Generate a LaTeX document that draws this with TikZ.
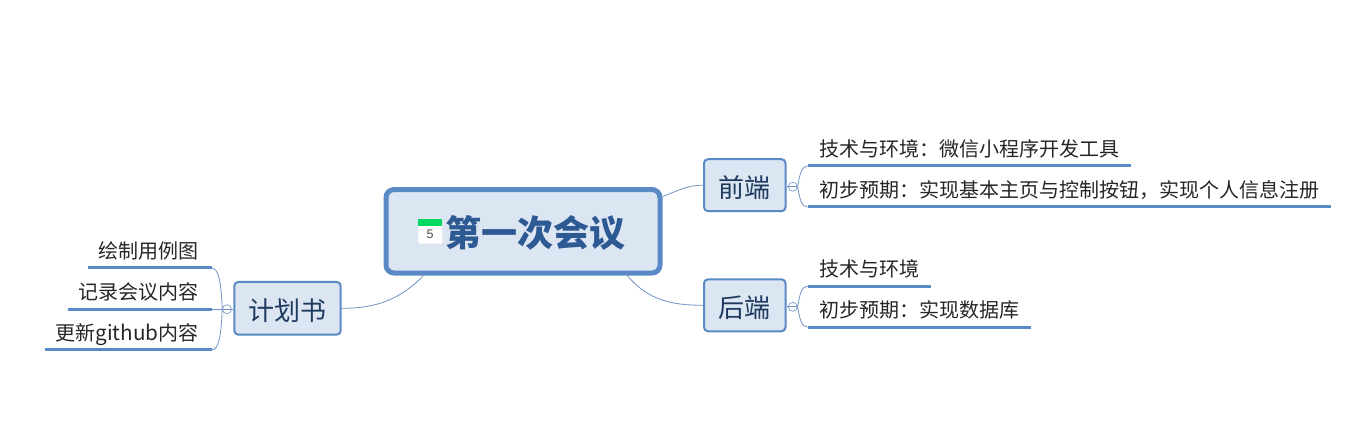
\documentclass[tikz,border=0pt]{standalone}
\usepackage{fontspec}
\setmainfont{Noto Sans CJK SC}
\newfontfamily\iconfont{Liberation Sans}
\usetikzlibrary{positioning}
\definecolor{boxblue}{HTML}{5A8AC6}
\definecolor{boxfill}{HTML}{DCE5F2}
\definecolor{branchtext}{HTML}{1F3A5F}
\definecolor{titletext}{HTML}{2E5A94}
\definecolor{curveblue}{HTML}{6F92C4}
\definecolor{calgreen}{HTML}{00D95F}

\begin{document}
\begin{tikzpicture}[
        x=1pt, y=1pt,
        mainbox/.style={draw=boxblue, line width=5pt, rounded corners=8pt, fill=boxfill, text=titletext, font=\fontsize{36}{40}\selectfont\bfseries, minimum width=274pt, minimum height=83.5pt, inner sep=0pt, text height=34pt, text depth=4pt},
        branch/.style={draw=boxblue, line width=2pt, rounded corners=4pt, fill=boxfill, text=branchtext, font=\fontsize{26}{30}\selectfont, minimum height=52pt, inner sep=0pt, text height=28pt, text depth=4pt},
        child/.style={font=\fontsize{20}{24}\selectfont, text=black!85, text height=16pt, text depth=4pt, inner xsep=11.5pt, inner ysep=5.5pt, outer sep=0pt},
        leftchild/.style={child, inner xsep=11pt, execute at end node={\kern2pt}},
        fold/.style={draw=curveblue, circle, fill=white, minimum size=9pt, inner sep=0pt, line width=0.6pt},
        uline/.style={draw=boxblue, line width=3pt},
        curve/.style={draw=curveblue, line width=0.8pt},
        bracket/.style={curve, out distance=13pt, in distance=6pt},
        longbracket/.style={curve, out distance=26pt, in distance=7pt}
    ]
        \useasboundingbox (0,0) rectangle (1360,444);

        % Center
        \node[mainbox] (main) at (523,212.7) {\hspace*{25pt}第一次会议};
        \node[draw=black!10, fill=white, rounded corners=1pt, minimum width=24pt, minimum height=25pt, inner sep=0pt, right=34.5pt of main.west, font=\iconfont\fontsize{12.5}{14}\selectfont, text=black!70, text height=18pt, text depth=4pt] (cal) {5};
        \node[fill=calgreen, minimum width=24pt, minimum height=7pt, inner sep=0pt, below=0pt of cal.north] (calbar) {};

        % Branches
        \node[branch, minimum width=81.5pt, right=40.5pt of main, yshift=46.1pt] (qianduan) {前端};
        \node[branch, minimum width=81.5pt, right=40.5pt of main, yshift=-74pt] (houduan) {后端};
        \node[branch, minimum width=106.4pt, minimum height=52.7pt, left=41.8pt of main, yshift=-77pt] (jihua) {计划书};

        % Fold marks
        \node[fold, right=1.5pt of qianduan, yshift=-1.5pt] (foldq) {};
        \node[fold, right=1.5pt of houduan, yshift=-1.5pt] (foldh) {};
        \node[fold, left=1.5pt of jihua, yshift=-1pt] (foldj) {};

        % Qianduan children
        \node[child, right=10pt of foldq.east, anchor=south west, yshift=20.7pt] (qone) {技术与环境：微信小程序开发工具};
        \node[child, right=10pt of foldq.east, anchor=south west, yshift=-20.3pt] (qtwo) {初步预期：实现基本主页与控制按钮，实现个人信息注册};

        % Houduan children
        \node[child, right=10pt of foldh.east, anchor=south west, yshift=20.7pt] (hone) {技术与环境};
        \node[child, right=10pt of foldh.east, anchor=south west, yshift=-20.3pt] (htwo) {初步预期：实现数据库};

        % Jihua children
        \node[leftchild, left=10.5pt of foldj.west, anchor=south east, yshift=41.3pt] (jone) {绘制用例图};
        \node[leftchild, left=10.5pt of foldj.west, anchor=south east, yshift=0pt] (jtwo) {记录会议内容};
        \node[leftchild, left=10.5pt of foldj.west, anchor=south east, yshift=-40.7pt] (jthree) {更新{\fontsize{20.7}{24}\selectfont github}内容};

        % Connections
        \draw[curve] (main.14) to[out=20,in=180] (qianduan.west);
        \draw[curve] (main.-23) to[out=-50,in=180] (houduan.west);
        \draw[curve] (main.204) to[out=-135,in=0] (jihua.east);
        \draw[curve] (foldq.west -| qianduan.east) -- (foldq.west);
        \draw[curve] (foldh.west -| houduan.east) -- (foldh.west);
        \draw[curve] (foldj.east -| jihua.west) -- (foldj.east);
        \draw[curve] (foldq.west) -- (foldq.east);
        \draw[curve] (foldh.west) -- (foldh.east);
        \draw[curve] (foldj.west) -- (foldj.east);

        % Brackets
        \draw[bracket] (foldq.east) to[out=80,in=180] (qone.south west);
        \draw[bracket] (foldq.east) to[out=-80,in=180] (qtwo.south west);
        \draw[bracket] (foldh.east) to[out=80,in=180] (hone.south west);
        \draw[bracket] (foldh.east) to[out=-80,in=180] (htwo.south west);
        \draw[longbracket] (foldj.west) to[out=92,in=0] (jone.south east);
        \draw[curve] (foldj.west) -- (jtwo.south east);
        \draw[longbracket] (foldj.west) to[out=-92,in=0] (jthree.south east);

        % Underlines
        \draw[uline] (qone.south west) -- (qone.south east);
        \draw[uline] (qtwo.south west) -- (qtwo.south east);
        \draw[uline] (hone.south west) -- (hone.south east);
        \draw[uline] (htwo.south west) -- (htwo.south east);
        \draw[uline] (jone.south west) -- (jone.south east);
        \draw[uline] (jtwo.south west) -- (jtwo.south east);
        \draw[uline] (jthree.south west) -- (jthree.south east);

    \end{tikzpicture}
\end{document}
